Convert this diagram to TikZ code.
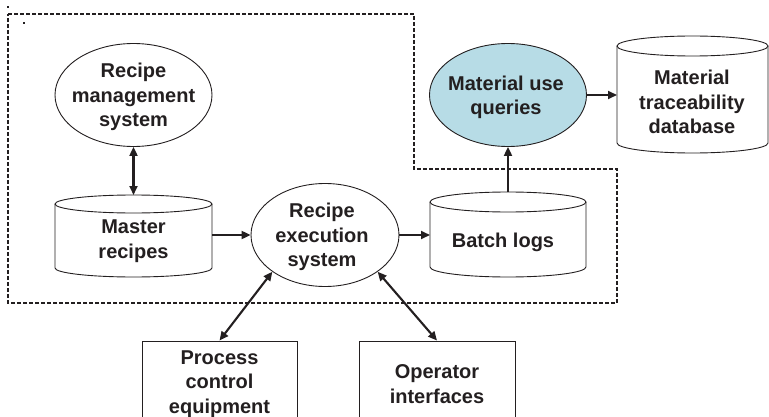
\documentclass[tikz,border=0pt]{standalone}
\usepackage{fontspec}
\setmainfont{Liberation Sans}
\usetikzlibrary{arrows.meta,shapes.geometric}

\definecolor{ink}{RGB}{35,31,32}
\definecolor{queryfill}{RGB}{183,220,230}

% cylinder outline drawn around an invisible rectangular node
\newcommand\cylshape[3]{%
  \draw[outl] ([yshift=-#3pt]#1.north west) -- ([yshift=#3pt]#1.south west)
    arc[start angle=180,end angle=360,x radius=#2pt,y radius=#3pt]
    -- ([yshift=-#3pt]#1.north east);
  \draw[outl] ([yshift=-#3pt]#1.north) ellipse[x radius=#2pt,y radius=#3pt];
}

\tikzset{
  outl/.style={draw=ink,line width=0.9pt},
  lbl/.style={font=\fontsize{20}{24.5}\selectfont\bfseries,text=ink,align=center,inner sep=0pt},
  ellnode/.style={ellipse,outl,inner sep=0pt},
  cylbody/.style={rectangle,inner sep=0pt,outer sep=0pt},
  boxnode/.style={rectangle,outl,lbl},
  flow/.style={draw=ink,line width=2.1pt,-{Triangle[length=9pt,width=8pt]}},
  twoway/.style={draw=ink,line width=2.1pt,{Triangle[length=9pt,width=8pt]}-{Triangle[length=9pt,width=8pt]}},
  boundary/.style={draw=ink,line width=1.3pt,dash pattern=on 4pt off 2pt},
}

\begin{document}
\begin{tikzpicture}[x=1pt,y=1pt]
\clip (0,0) rectangle (769,416);

% system boundary
\draw[boundary] (8,402) -- (414,402) -- (414,247) -- (617,247) -- (617,113) -- (8,113) -- cycle;
\fill[ink] (7,408) rectangle (9,410);
\fill[ink] (23,392) rectangle (25,394);

% ellipses
\node[ellnode,minimum width=157pt,minimum height=103pt] (rms) at (133.5,321) {};
\node[lbl] (rmsT) at (133.5,319) {Recipe\\management\\system};

\node[ellnode,fill=queryfill,minimum width=157pt,minimum height=103pt] (muq) at (508,321) {};
\node[lbl] (muqT) at (506,318.5) {Material use\\queries};

\node[ellnode,minimum width=148pt,minimum height=103pt] (exec) at (325,181) {};
\node[lbl] (execT) at (322,179) {Recipe\\execution\\system};

% cylinders
\node[cylbody,minimum width=157pt,minimum height=82pt] (mr) at (133.5,180) {};
\cylshape{mr}{78.5}{9}
\node[lbl] (mrT) at (133.5,175) {Master\\recipes};

\node[cylbody,minimum width=156pt,minimum height=85pt] (bl) at (508,181.5) {};
\cylshape{bl}{78}{10}
\node[lbl] (blT) at (503,174) {Batch logs};

\node[cylbody,minimum width=151pt,minimum height=117pt] (mtd) at (692.5,321.5) {};
\cylshape{mtd}{75.5}{10}
\node[lbl] (mtdT) at (692,314) {Material\\traceability\\database};

% boxes
\node[boxnode,minimum width=155pt,minimum height=86pt] (proc) at (219.5,32) {Process\\control\\equipment};
\node[boxnode,minimum width=156pt,minimum height=86pt] (oper) at (437,32) {Operator\\interfaces};

% connectors
\draw[twoway] (rms.south) -- (mr.north);
\draw[flow] (mr.east |- exec.west) -- (exec.west);
\draw[flow] (exec.east) -- (bl.west |- exec.east);
\draw[flow] (bl.north) -- (muq.south);
\draw[flow] (muq.east) -- (mtd.west |- muq.east);
\draw[twoway] (proc.north) -- (exec.south west);
\draw[twoway] (oper.north) -- (exec.south east);
\end{tikzpicture}
\end{document}
